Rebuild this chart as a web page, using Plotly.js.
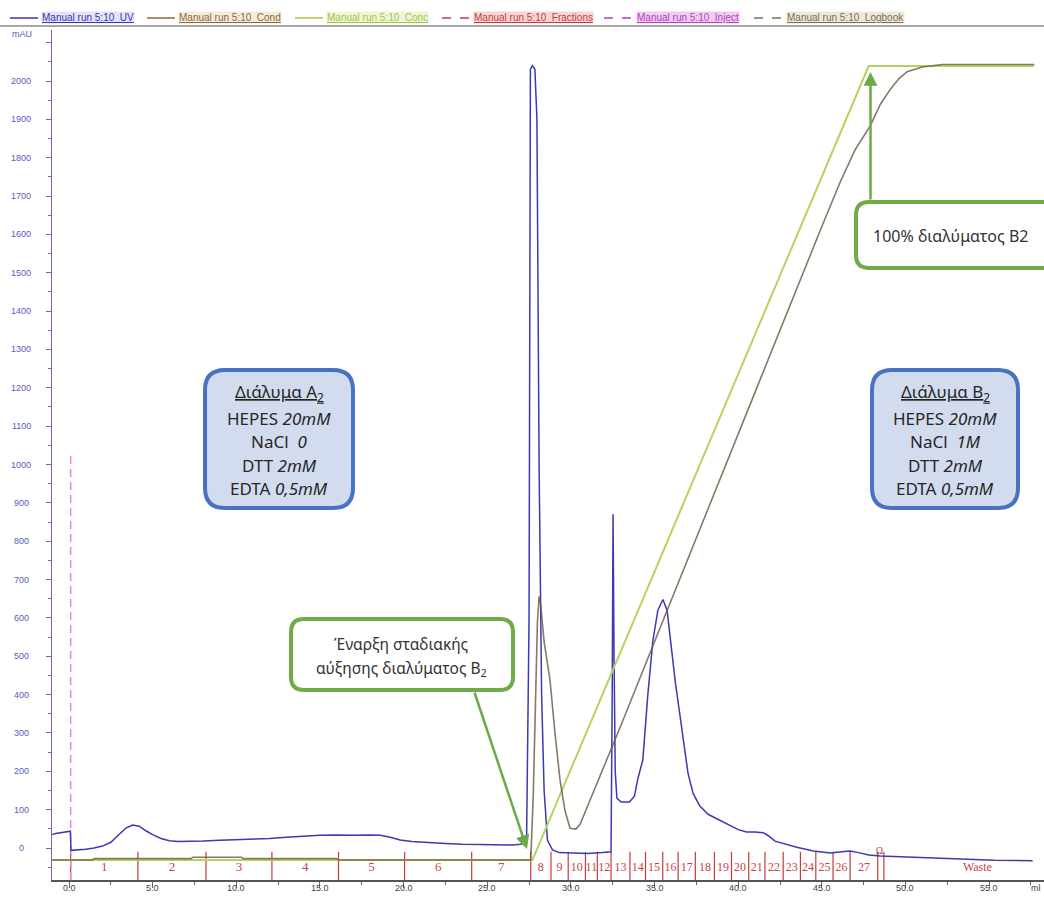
<!DOCTYPE html>
<html><head><meta charset="utf-8">
<script src="https://cdn.plot.ly/plotly-3.0.1.min.js"></script>
<style>html,body{margin:0;padding:0;background:#fff;overflow:hidden}#chart{width:1044px;height:897px}</style>
</head><body><div id="chart"></div>
<script>
// ---------------- data ----------------
// UV absorbance, mAU, vs volume (ml)
const uvX = [-1.0,-0.8,-0.5,-0.2,0.08,0.12,0.5,1.0,1.5,2.0,2.5,3.0,3.4,3.8,4.2,4.6,5.0,5.5,6.0,6.5,7.0,8.0,9.0,10.0,11.0,12.0,13.0,14.0,15.0,16.0,17.0,18.0,18.6,19.2,19.8,20.5,21.5,22.5,23.5,24.5,25.5,26.5,27.0,27.35,27.5,27.58,27.7,27.85,27.97,28.1,28.25,28.4,28.6,28.9,29.3,30.0,31.0,31.9,32.4,32.47,32.52,32.58,32.65,32.75,33.0,33.5,33.8,34.0,34.15,34.3,34.6,34.9,35.2,35.5,35.75,36.0,36.25,36.5,36.8,37.0,37.3,37.7,38.2,38.9,39.5,40.0,40.5,41.0,41.5,41.8,42.2,42.8,43.5,44.5,45.5,46.2,46.7,47.2,47.8,48.5,49.6,51.0,53.0,55.3,57.6];
const uvY = [35,38,40,42,44,-6,-5,-3,0,5,15,35,52,60,57,45,35,25,19,17,17,18,20,21,23,25,28,31,33,34,33,34,33,28,21,17,14,12,10,9,8,8,10,15,600,2030,2040,2030,1900,1000,400,150,20,-5,-12,-13,-14,-12,-10,400,870,500,200,130,120,120,135,180,205,230,400,540,620,648,620,520,430,352,250,195,143,110,88,73,60,48,42,42,40,32,18,10,2,-8,-13,-10,-8,-12,-18,-21,-23,-26,-29,-32,-33];
// Conductivity (relative %, right scale hidden)
const condX = [-1.0,1.4,1.5,7.3,7.4,10.3,10.4,16.0,16.1,27.6,27.75,27.9,28.0,28.1,28.2,28.4,28.75,29.05,29.35,29.65,29.95,30.3,30.55,31.0,33.0,35.0,37.0,39.0,41.0,43.0,45.0,46.1,47.0,47.9,48.5,49.1,49.6,50.1,51.0,52.2,57.7];
const condY = [0,0,0.17,0.17,0.35,0.35,0.17,0.17,0,0,8,22,30,33.2,32,27.5,22.7,16,10.1,6.2,4.0,3.9,4.5,6.8,17,27.5,38,48.5,59,69.5,79.8,85.4,89.5,92.5,95.2,97.1,98.4,99.3,99.9,100.2,100.2];
// Concentration of buffer B (%)
const concX = [-1.0,27.7,47.8,57.7];
const concY = [0,0,100,100];
// Injection mark
const injectX = [0.1,0.1];
const injectY = [-83.4,1033];
// Fractions
const fracBounds = [0.1,4.12,8.19,12.13,16.11,20.06,24.07,27.6,28.81,29.84,30.87,31.58,32.4,33.53,34.46,35.49,36.41,37.44,38.58,39.6,40.63,41.6,42.69,43.72,44.64,45.67,46.69,48.34,48.71];
const fracLabels = ['1','2','3','4','5','6','7','8','9','10','11','12','13','14','15','16','17','18','19','20','21','22','23','24','25','26','27'];
const wasteLabel = 'Waste';
const wasteX = 54.3;
const logMarkX = 48.45;
// Axis ticks
const yTickVals = [0,100,200,300,400,500,600,700,800,900,1000,1100,1200,1300,1400,1500,1600,1700,1800,1900,2000];
const xTickVals = [0,5,10,15,20,25,30,35,40,45,50,55];
const xTickText = ['0.0','5.0','10.0','15.0','20.0','25.0','30.0','35.0','40.0','45.0','50.0','55.0'];
// Legend names
const seriesNames = ['Manual run 5:10_UV','Manual run 5:10_Cond','Manual run 5:10_Conc','Manual run 5:10_Fractions','Manual run 5:10_Inject','Manual run 5:10_Logbook'];

// ---------------- layout helpers ----------------
const W = 1044, H = 897;
const PL = 52, PR = 1044, PT = 30, PB = 880;
const px = v => v / W;
const py = v => 1 - v / H;
const YMIN = -83.4, YMAX = 2133;
const FRAC_TOP = -10, FRAC_LABEL_Y = -52;

function roundRect(x0, y0, x1, y1, r) {
  const X = px, Y = py;
  return 'M' + X(x0 + r) + ',' + Y(y0) +
    ' L' + X(x1 - r) + ',' + Y(y0) +
    ' Q' + X(x1) + ',' + Y(y0) + ' ' + X(x1) + ',' + Y(y0 + r) +
    ' L' + X(x1) + ',' + Y(y1 - r) +
    ' Q' + X(x1) + ',' + Y(y1) + ' ' + X(x1 - r) + ',' + Y(y1) +
    ' L' + X(x0 + r) + ',' + Y(y1) +
    ' Q' + X(x0) + ',' + Y(y1) + ' ' + X(x0) + ',' + Y(y1 - r) +
    ' L' + X(x0) + ',' + Y(y0 + r) +
    ' Q' + X(x0) + ',' + Y(y0) + ' ' + X(x0 + r) + ',' + Y(y0) + ' Z';
}

// fraction marks as one segmented line
const fx = [], fy = [];
fracBounds.forEach(b => { fx.push(b, b, null); fy.push(FRAC_TOP, YMIN, null); });
const labX = fracLabels.map((_, i) => (fracBounds[i] + fracBounds[i + 1]) / 2);
const labY = fracLabels.map(() => FRAC_LABEL_Y);
const labSize = fracLabels.map((_, i) => i < 7 ? 13 : 12);

const traces = [
  {x: fx, y: fy, mode: 'lines', line: {color: '#c83a3a', width: 1.2}, hoverinfo: 'skip', cliponaxis: false},
  {x: labX, y: labY, mode: 'text', text: fracLabels, textfont: {family: 'Liberation Serif', size: labSize, color: '#c84444'}, cliponaxis: false},
  {x: [wasteX], y: [FRAC_LABEL_Y], mode: 'text', text: [wasteLabel], textfont: {family: 'Liberation Serif', size: 12, color: '#c84444'}, cliponaxis: false},
  {x: [logMarkX], y: [-8], mode: 'text', text: ['Ω'], textfont: {family: 'Liberation Serif', size: 10, color: '#c84444'}, cliponaxis: false},
  {x: injectX, y: injectY, mode: 'lines', line: {color: '#e08ae0', width: 1.5, dash: '8px,5px'}, cliponaxis: false},
  {x: concX, y: concY, yaxis: 'y2', mode: 'lines', line: {color: '#b4d460', width: 2}},
  {x: condX, y: condY, yaxis: 'y2', mode: 'lines', line: {color: '#6a5640', width: 1.6}, opacity: 0.8},
  {x: uvX, y: uvY, mode: 'lines', line: {color: '#3a3ab4', width: 1.5}}
];

const annotations = [];
// y tick labels (centered like the reference)
yTickVals.forEach(v => annotations.push({xref: 'paper', yref: 'y', x: px(21), y: v, text: String(v), showarrow: false, xanchor: 'center', yanchor: 'middle', font: {family: 'Liberation Sans', size: 9, color: '#5a5abe'}}));
// x tick labels
xTickVals.forEach((v, i) => annotations.push({xref: 'x', yref: 'paper', x: v, y: py(888), text: xTickText[i], showarrow: false, xanchor: 'center', yanchor: 'middle', font: {family: 'Liberation Sans', size: 9, color: '#444'}}));
annotations.push({xref: 'paper', yref: 'paper', x: px(22), y: py(34), text: 'mAU', showarrow: false, xanchor: 'center', yanchor: 'middle', font: {family: 'Liberation Sans', size: 9, color: '#5a5abe'}});
annotations.push({xref: 'paper', yref: 'paper', x: px(1043), y: py(888), text: 'ml', showarrow: false, xanchor: 'right', yanchor: 'middle', font: {family: 'Liberation Sans', size: 9, color: '#444'}});

// legend strip
const legendStyle = [
  {c: '#3434b4', bg: '#e4e4f6', l0: 10, l1: 38, t: 41, dash: 'solid'},
  {c: '#8a6a3a', bg: '#f4ecdc', l0: 147, l1: 175, t: 178, dash: 'solid'},
  {c: '#a4c444', bg: '#eef6d8', l0: 295, l1: 323, t: 326, dash: 'solid'},
  {c: '#c83a3a', bg: '#f6d6d6', l0: 442, l1: 470, t: 473, dash: 'dash'},
  {c: '#b23ec0', bg: '#f2cdf2', l0: 604, l1: 632, t: 636, dash: 'dash'},
  {c: '#7e6e4e', bg: '#ece8da', l0: 754, l1: 782, t: 786, dash: 'dash'}
];
const shapes = [];
seriesNames.forEach((n, i) => {
  const s = legendStyle[i];
  shapes.push({type: 'line', xref: 'paper', yref: 'paper', x0: px(s.l0), x1: px(s.l1), y0: py(18), y1: py(18), line: {color: s.c, width: 1.5, dash: s.dash}});
  annotations.push({xref: 'paper', yref: 'paper', x: px(s.t), y: py(18), xanchor: 'left', yanchor: 'middle', text: '<u>' + n + '</u>', showarrow: false, bgcolor: s.bg, borderpad: 0, font: {family: 'Liberation Sans', size: 10, color: s.c}});
});
shapes.push({type: 'line', xref: 'paper', yref: 'paper', x0: 0, x1: 1, y0: py(26), y1: py(26), line: {color: '#a8a8a8', width: 2}});

// boxes
shapes.push({type: 'path', xref: 'paper', yref: 'paper', path: roundRect(205, 370, 353, 508, 20), fillcolor: '#d2dcee', line: {color: '#4a72c2', width: 4}, layer: 'above'});
shapes.push({type: 'path', xref: 'paper', yref: 'paper', path: roundRect(872, 370, 1018, 508, 20), fillcolor: '#d2dcee', line: {color: '#4a72c2', width: 4}, layer: 'above'});
shapes.push({type: 'path', xref: 'paper', yref: 'paper', path: roundRect(291, 619, 513, 690, 13), fillcolor: '#ffffff', line: {color: '#6fac46', width: 4}, layer: 'above'});
shapes.push({type: 'path', xref: 'paper', yref: 'paper', path: roundRect(856, 202, 1070, 268, 13), fillcolor: '#ffffff', line: {color: '#6fac46', width: 4}, layer: 'above'});

const boxFont = {family: 'Noto Sans', size: 17, color: '#262626'};
const linesA = ['<u>Διάλυμα A<sub>2</sub></u>', 'HEPES <i>20mM</i>', 'NaCl\u00a0 <i>0</i>', 'DTT <i>2mM</i>', 'EDTA <i>0,5mM</i>'];
const linesB = ['<u>Διάλυμα B<sub>2</sub></u>', 'HEPES <i>20mM</i>', 'NaCl\u00a0 <i>1M</i>', 'DTT <i>2mM</i>', 'EDTA <i>0,5mM</i>'];
const lineYs = [393, 418, 442, 465, 488];
linesA.forEach((t, i) => annotations.push({xref: 'paper', yref: 'paper', x: px(279), y: py(lineYs[i]), text: t, showarrow: false, font: boxFont, xanchor: 'center', yanchor: 'middle'}));
linesB.forEach((t, i) => annotations.push({xref: 'paper', yref: 'paper', x: px(945), y: py(lineYs[i]), text: t, showarrow: false, font: boxFont, xanchor: 'center', yanchor: 'middle'}));

const greenFont = {family: 'Noto Sans', size: 15.5, color: '#333'};
annotations.push({xref: 'paper', yref: 'paper', x: px(401), y: py(644), text: 'Έναρξη σταδιακής', showarrow: false, font: greenFont, xanchor: 'center', yanchor: 'middle'});
annotations.push({xref: 'paper', yref: 'paper', x: px(401), y: py(668), text: 'αύξησης διαλύματος B<sub>2</sub>', showarrow: false, font: greenFont, xanchor: 'center', yanchor: 'middle'});
annotations.push({xref: 'paper', yref: 'paper', x: px(871), y: py(236), xanchor: 'left', text: '100% διαλύματος B2', showarrow: false, font: {family: 'Noto Sans', size: 16, color: '#333'}, yanchor: 'middle'});

// arrows
annotations.push({xref: 'paper', yref: 'paper', x: px(527), y: py(849), ax: 474 - 527, ay: 691 - 849, text: '', showarrow: true, arrowhead: 2, arrowsize: 1.1, arrowwidth: 2.5, arrowcolor: '#6aaa48'});
annotations.push({xref: 'paper', yref: 'paper', x: px(870.5), y: py(72), ax: 0, ay: 201 - 72, text: '', showarrow: true, arrowhead: 2, arrowsize: 1.1, arrowwidth: 2.5, arrowcolor: '#6aaa48'});

const layout = {
  width: W, height: H, margin: {l: 0, r: 0, t: 0, b: 0},
  paper_bgcolor: '#ffffff', plot_bgcolor: 'rgba(0,0,0,0)', showlegend: false,
  font: {family: 'Liberation Sans'},
  xaxis: {domain: [PL / W, PR / W], range: [-1.016, 58.28], showgrid: false, zeroline: false, showline: true,
    linecolor: '#555', linewidth: 1.5, ticks: 'outside', ticklen: 6, tickcolor: '#666', tickvals: xTickVals,
    showticklabels: false,
    minor: {dtick: 2.5, tick0: 0, ticks: 'outside', ticklen: 3, tickcolor: '#666'}, automargin: false, fixedrange: true},
  yaxis: {domain: [(H - PB) / H, (H - PT) / H], range: [YMIN, YMAX], showgrid: false, zeroline: false, showline: true,
    linecolor: '#6a6ac8', linewidth: 1.5, ticks: 'outside', ticklen: 5, tickcolor: '#6a6ac8', dtick: 100, tick0: 0,
    showticklabels: false, minor: {dtick: 50, tick0: 0, ticks: 'outside', ticklen: 3, tickcolor: '#6a6ac8'}, automargin: false, fixedrange: true},
  yaxis2: {overlaying: 'y', range: [-2.517, 104.55], visible: false, fixedrange: true},
  shapes: shapes, annotations: annotations
};
Plotly.newPlot('chart', traces, layout, {displayModeBar: false, staticPlot: true});
</script></body></html>
